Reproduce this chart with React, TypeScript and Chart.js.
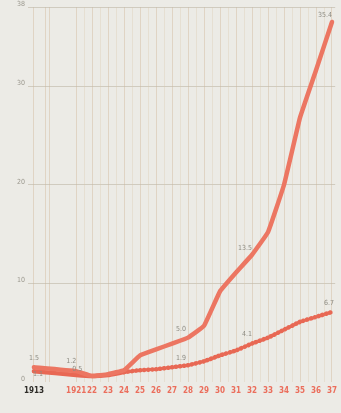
import React, { useEffect, useRef } from "react";
import { Chart, registerables } from "chart.js";

Chart.register(...registerables);

// ---- data ----
const yearLabels = ["1913", "1921", "22", "23", "24", "25", "26", "27", "28", "29", "30", "31", "32", "33", "34", "35", "36", "37"];
const years = [1913, 1921, 1922, 1923, 1924, 1925, 1926, 1927, 1928, 1929, 1930, 1931, 1932, 1933, 1934, 1935, 1936, 1937];
const upperSeries = [1.5, 1.1, 0.6, 0.8, 1.2, 2.7, 3.3, 3.9, 4.5, 5.7, 9.2, 11.1, 12.9, 15.2, 20.0, 26.8, 31.6, 36.5];
const lowerSeries = [1.1, 0.7, 0.6, 0.7, 1.0, 1.2, 1.3, 1.5, 1.7, 2.1, 2.7, 3.2, 3.9, 4.5, 5.3, 6.1, 6.6, 7.1];
const yTicks = [0, 10, 20, 30, 38];
const valueLabels = [
  { series: 0, index: 0, text: "1.5" },
  { series: 1, index: 0, text: "1.1" },
  { series: 0, index: 1, text: "1.2" },
  { series: 1, index: 1, text: "0.5" },
  { series: 0, index: 8, text: "5.0" },
  { series: 1, index: 8, text: "1.9" },
  { series: 0, index: 12, text: "13.5" },
  { series: 1, index: 12, text: "4.1" },
  { series: 1, index: 17, text: "6.7" },
  { series: 0, index: 17, text: "35.4" },
];
const dottedFromIndex = 4; // lower series drawn dotted from 1924 on

// ---- layout helpers (axis break between 1913 and 1921) ----
const BREAK_POS = 1918.36;
const xPos = (y: number) => (y < 1921 ? BREAK_POS : y);
const breakLines = [1919.1, 1919.34];

const labelOffsets: Record<string, [number, number]> = {
  "0-0": [0, -9],
  "1-0": [4, 3],
  "0-1": [-5, -10],
  "1-1": [1, -6],
  "0-8": [-7, -8],
  "1-8": [-7, -7],
  "0-12": [-7, -7],
  "1-12": [-5, -9],
  "1-17": [-3, -9],
  "0-17": [-7, -7],
};

const LINE = "rgb(236,118,98)";
const FONT = "'DejaVu Sans Condensed', 'DejaVu Sans', sans-serif";

const labelPlugin = {
  id: "valueLabels",
  beforeDatasetsDraw(chart: any) {
    // faint minor vertical rules between the yearly ones
    const { ctx, chartArea, scales } = chart;
    ctx.save();
    ctx.strokeStyle = "rgba(215,195,165,0.3)";
    ctx.lineWidth = 1;
    for (let y = 1921; y < 1937.2; y += 0.5) {
      if (Number.isInteger(y)) continue;
      const x = Math.round(scales.x.getPixelForValue(y)) + 0.5;
      ctx.beginPath();
      ctx.moveTo(x, chartArea.top);
      ctx.lineTo(x, chartArea.bottom);
      ctx.stroke();
    }
    ctx.restore();
  },
  afterDatasetsDraw(chart: any) {
    const ctx = chart.ctx;
    ctx.save();
    ctx.font = `7px ${FONT}`;
    ctx.fillStyle = "#8d8b82";
    ctx.textAlign = "center";
    ctx.textBaseline = "middle";
    valueLabels.forEach((l) => {
      const meta = chart.getDatasetMeta(l.series);
      const pt = meta.data[l.index];
      if (!pt) return;
      const off = labelOffsets[`${l.series}-${l.index}`] || [0, -8];
      ctx.fillText(l.text, pt.x + off[0], pt.y + off[1]);
    });
    ctx.restore();
  },
};

export default function App() {
  const ref = useRef<HTMLCanvasElement>(null);
  useEffect(() => {
    document.body.style.margin = "0";
    const xTickValues = [xPos(1913), ...breakLines, ...years.slice(1)];
    const chart = new Chart(ref.current!, {
      type: "line",
      data: {
        datasets: [
          {
            data: years.map((y, i) => ({ x: xPos(y), y: upperSeries[i] })),
            borderColor: LINE,
            borderWidth: 4.5,
            pointRadius: 0,
            tension: 0.08,
            borderCapStyle: "round",
            borderJoinStyle: "round",
          },
          {
            data: years.map((y, i) => ({ x: xPos(y), y: lowerSeries[i] })),
            borderColor: "rgb(232,104,84)",
            borderWidth: 4.5,
            pointRadius: 0,
            tension: 0.08,
            borderCapStyle: "round",
            segment: {
              borderDash: (c: any) => (c.p0DataIndex >= dottedFromIndex ? [0.5, 3.5] : undefined),
            },
          },
        ],
      },
      options: {
        animation: false,
        responsive: false,
        events: [],
        layout: { padding: { top: 7, left: 0, right: 0, bottom: 0 } },
        plugins: { legend: { display: false }, tooltip: { enabled: false } },
        scales: {
          x: {
            type: "linear",
            min: 1917.99,
            max: 1937.2,
            afterBuildTicks: (axis: any) => {
              axis.ticks = xTickValues.map((v) => ({ value: v }));
            },
            afterFit: (axis: any) => {
              axis.height = 31;
            },
            border: { display: false },
            grid: {
              drawTicks: false,
              color: "rgba(210,185,155,0.45)",
              lineWidth: 1,
            },
            ticks: {
              autoSkip: false,
              maxRotation: 0,
              padding: 4,
              font: { family: FONT, size: 8, weight: "bold" },
              color: (c: any) => (c.tick && c.tick.value === BREAK_POS ? "#2e2c28" : "rgb(235,110,92)"),
              callback: (v: any) => {
                if (v === BREAK_POS) return yearLabels[0];
                const idx = years.indexOf(v);
                return idx > 0 ? yearLabels[idx] : "";
              },
            },
          },
          y: {
            min: 0,
            max: 38,
            afterBuildTicks: (axis: any) => {
              axis.ticks = yTicks.map((v) => ({ value: v }));
            },
            afterFit: (axis: any) => {
              axis.width = 28;
            },
            border: { display: false },
            grid: {
              drawTicks: false,
              color: (c: any) => (c.tick && c.tick.value === 0 ? "rgba(0,0,0,0)" : "rgba(190,182,165,0.6)"),
              lineWidth: 1,
            },
            ticks: {
              padding: 3,
              labelOffset: -3,
              color: "#9b988e",
              font: { family: FONT, size: 7 },
              callback: (v: any) => String(v),
            },
          },
        },
      },
      plugins: [labelPlugin],
    } as any);
    return () => chart.destroy();
  }, []);
  return (
    <div style={{ width: 341, height: 413, background: "#ecebe6" }}>
      <canvas ref={ref} width={341} height={413} style={{ display: "block" }} />
    </div>
  );
}
